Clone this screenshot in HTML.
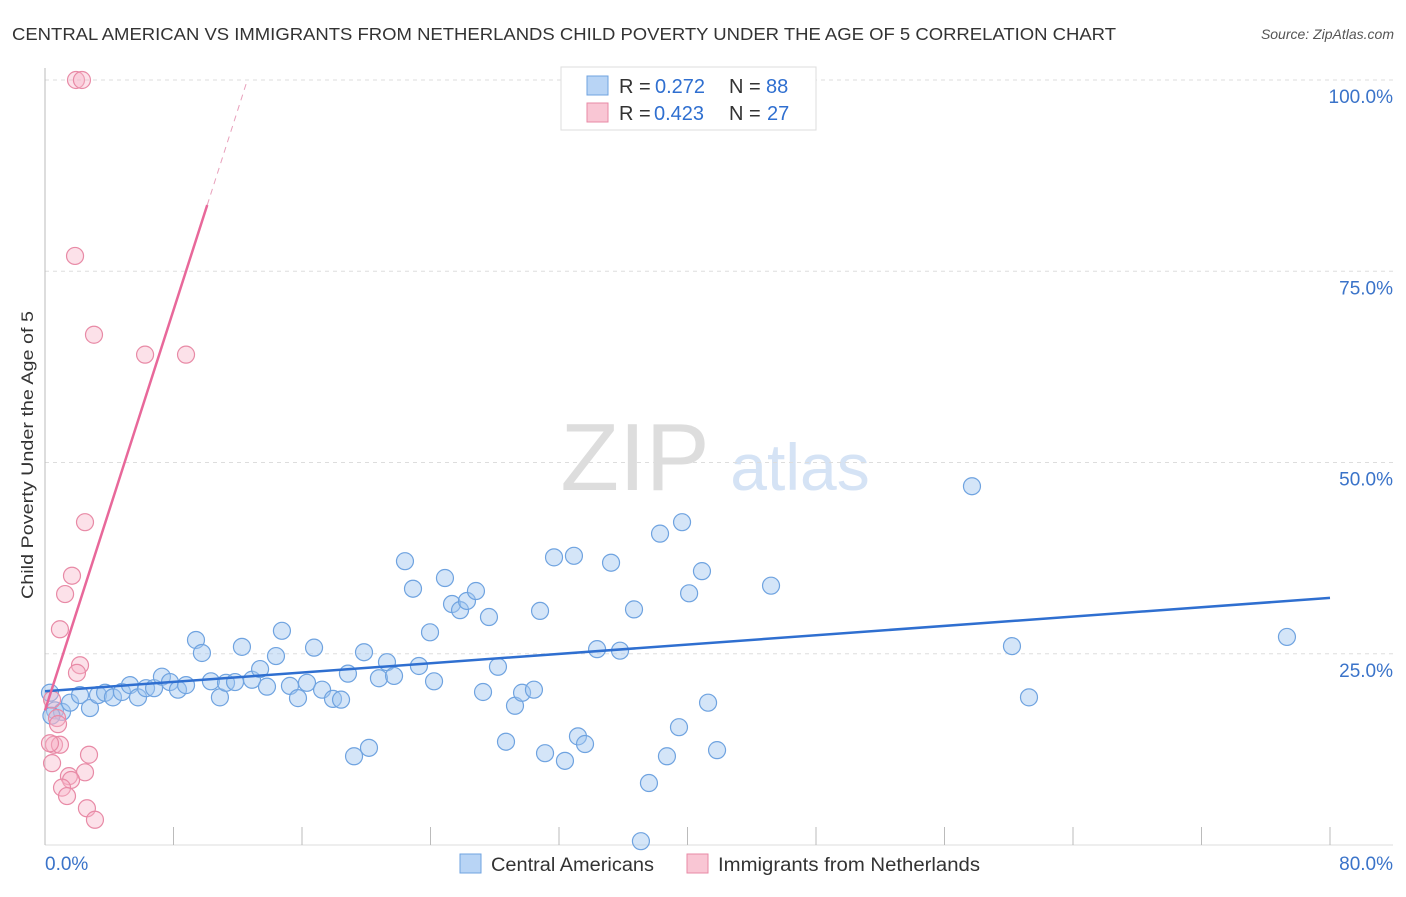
<!DOCTYPE html>
<html><head><meta charset="utf-8"><style>
body{margin:0;background:#fff;font-family:"Liberation Sans",sans-serif}
svg text{font-family:"Liberation Sans",sans-serif}
</style></head><body>
<svg id="c" width="1406" height="892" xmlns="http://www.w3.org/2000/svg">
<text x="12" y="40" font-size="17.5" fill="#333" textLength="1104" lengthAdjust="spacingAndGlyphs">CENTRAL AMERICAN VS IMMIGRANTS FROM NETHERLANDS CHILD POVERTY UNDER THE AGE OF 5 CORRELATION CHART</text>
<text x="1394" y="39" font-size="14" fill="#555" font-style="italic" text-anchor="end">Source: ZipAtlas.com</text>
<text x="0" y="0" transform="translate(33,455) rotate(-90)" font-size="17" fill="#333" text-anchor="middle" textLength="288" lengthAdjust="spacingAndGlyphs">Child Poverty Under the Age of 5</text>
<g>
<text x="635" y="490" font-size="96" fill="#ddd" font-family="Liberation Serif" text-anchor="middle">ZIP</text>
<text x="800" y="490" font-size="66" fill="#d5e3f5" text-anchor="middle">atlas</text>
</g>
<g id="grid"></g><g id="marks"></g><g id="trend"></g>
<g>
<rect x="561" y="67" width="255" height="63" fill="#fff" stroke="#ddd"/>
<rect x="587" y="76" width="21" height="19" fill="#b8d4f5" stroke="#6fa3e0"/>
<rect x="587" y="103" width="21" height="19" fill="#f9c6d4" stroke="#e88aa6"/>
<text x="619" y="93" font-size="20" fill="#333">R =</text>
<text x="655" y="93" font-size="20" fill="#2f6fd0">0.272</text>
<text x="729" y="93" font-size="20" fill="#333">N =</text>
<text x="766" y="93" font-size="20" fill="#2f6fd0">88</text>
<text x="619" y="120" font-size="20" fill="#333">R =</text>
<text x="654" y="120" font-size="20" fill="#2f6fd0">0.423</text>
<text x="729" y="120" font-size="20" fill="#333">N =</text>
<text x="767" y="120" font-size="20" fill="#2f6fd0">27</text>
</g>
<g>
<rect x="460" y="854" width="21" height="19" fill="#b8d4f5" stroke="#6fa3e0"/>
<text x="491" y="871" font-size="19" fill="#333" textLength="163" lengthAdjust="spacingAndGlyphs">Central Americans</text>
<rect x="687" y="854" width="21" height="19" fill="#f9c6d4" stroke="#e88aa6"/>
<text x="718" y="871" font-size="19" fill="#333" textLength="262" lengthAdjust="spacingAndGlyphs">Immigrants from Netherlands</text>
</g>
</svg>
<script>
const yTicks=[25,50,75,100];
const yTickLabels=["25.0%","50.0%","75.0%","100.0%"];
const xTicks=[0,8,16,24,32,40,48,56,64,72,80];
const blueX=[0.31,0.62,1.06,1.56,2.18,2.8,3.3,3.74,4.23,4.79,5.29,5.79,6.29,6.79,7.28,7.78,8.28,8.78,9.4,9.77,10.33,10.89,11.27,11.83,12.26,12.89,13.39,13.82,14.38,14.75,15.25,15.75,16.31,16.75,17.25,17.93,18.43,18.86,19.24,19.86,20.17,20.79,21.29,21.73,22.41,22.91,23.28,23.97,24.22,24.9,25.34,25.84,26.27,26.83,27.27,27.64,28.2,28.7,29.26,29.7,30.44,30.82,31.13,31.69,32.37,32.93,33.18,33.62,34.37,35.24,35.8,36.67,37.6,37.1,38.29,38.72,39.47,39.66,40.1,40.9,41.28,41.84,45.2,57.71,60.2,61.26,77.32,0.4];
const blueY=[19.9,17.6,17.4,18.6,19.6,17.9,19.6,19.9,19.3,20.0,20.9,19.3,20.5,20.5,22.0,21.3,20.3,20.9,26.8,25.1,21.4,19.3,21.2,21.3,25.9,21.6,23.0,20.7,24.7,28.0,20.8,19.2,21.2,25.8,20.3,19.1,19.0,22.4,11.6,25.2,12.7,21.8,23.9,22.1,37.1,33.5,23.4,27.8,21.4,34.9,31.5,30.7,31.9,33.2,20.0,29.8,23.3,13.5,18.2,19.9,20.3,30.6,12.0,37.6,11.0,37.8,14.2,13.2,25.6,36.9,25.4,30.8,8.1,0.5,40.7,11.6,15.4,42.2,32.9,35.8,18.6,12.4,33.9,46.9,26.0,19.3,27.2,16.9];
const pinkX=[1.93,2.3,1.87,3.05,6.23,8.78,2.49,1.68,1.25,0.93,2.18,1.99,0.44,0.75,0.81,0.56,0.93,0.31,0.44,2.74,2.49,1.49,1.62,1.06,1.37,2.61,3.11];
const pinkY=[100,100,77.0,66.7,64.1,64.1,42.2,35.2,32.8,28.2,23.5,22.5,19.0,16.6,15.8,13.1,13.1,13.3,10.7,11.8,9.5,9.0,8.5,7.5,6.4,4.8,3.3];
const blueTrend=[20.1,32.3];
const pinkTrend=[17.6,6.54];
const X=v=>45+v*1285/80, Y=v=>845-v*7.65;
const NS="http://www.w3.org/2000/svg";
function mk(p,t,a){const e=document.createElementNS(NS,t);for(const k in a)e.setAttribute(k,a[k]);p.appendChild(e);return e;}
const g=document.getElementById('grid');
yTicks.forEach((t,i)=>{
 const l=mk(g,'line',{x1:45,x2:1393,y1:Y(t),y2:Y(t),stroke:'#ddd','stroke-dasharray':'4,4'});
 
 
 const tx=mk(g,'text',{x:1393,y:Y(t)+23,'font-size':19,fill:'#3a73c9','text-anchor':'end'});
 tx.textContent=yTickLabels[i];
 
 
});
const ya=mk(g,'line',{x1:45,x2:45,y1:68,y2:845,stroke:'#bbb'});


const xa=mk(g,'line',{x1:45,x2:1393,y1:845,y2:845,stroke:'#ddd'});


xTicks.forEach(t=>{
 const l=mk(g,'line',{x1:X(t),x2:X(t),y1:827,y2:845,stroke:'#bbb'});
 
 
});
[[0,'start',45,"0.0%"],[80,'end',1393,"80.0%"]].forEach(d=>{
 const tx=mk(g,'text',{x:d[2],y:870,'font-size':19,fill:'#3a73c9','text-anchor':d[1]});
 tx.textContent=d[3];
 
 
});
const m=document.getElementById('marks');
blueX.forEach((x,i)=>{
 const c=mk(m,'circle',{cx:X(x),cy:Y(blueY[i]),r:8.5,fill:'rgba(160,197,240,0.45)',stroke:'#6fa3e0','stroke-width':1.2});
 
 
});
pinkX.forEach((x,i)=>{
 const c=mk(m,'circle',{cx:X(x),cy:Y(pinkY[i]),r:8.5,fill:'rgba(247,180,200,0.4)',stroke:'#e88aa6','stroke-width':1.2});
 
 
});
const tr=document.getElementById('trend');
const bl=mk(tr,'line',{x1:X(0),y1:Y(blueTrend[0]),x2:X(80),y2:Y(blueTrend[1]),stroke:'#2f6fd0','stroke-width':2.5});


const xe=10.1, xd=(100-pinkTrend[0])/pinkTrend[1];
const pl=mk(tr,'line',{x1:X(0),y1:Y(pinkTrend[0]),x2:X(xe),y2:Y(pinkTrend[0]+pinkTrend[1]*xe),stroke:'#e8689a','stroke-width':2.5});


const pd=mk(tr,'line',{x1:X(xe),y1:Y(pinkTrend[0]+pinkTrend[1]*xe),x2:X(xd),y2:Y(100),stroke:'#e8a0bb','stroke-width':1,'stroke-dasharray':'6,5'});


</script>
</body></html>
